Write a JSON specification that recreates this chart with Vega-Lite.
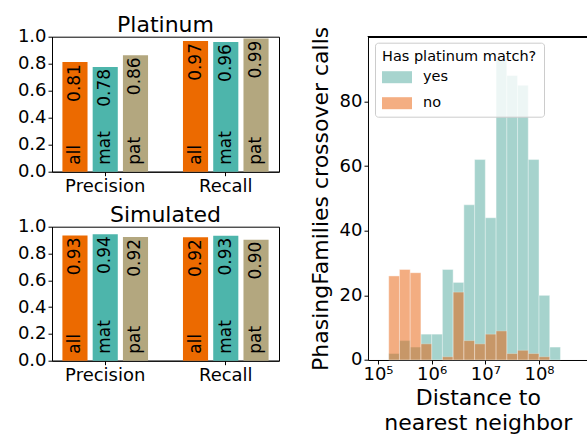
{
  "$schema": "https://vega.github.io/schema/vega-lite/v6.json",
  "padding": {"left": 16, "top": 12.7, "right": 0, "bottom": 0},
  "spacing": 29,
  "resolve": {"scale": {"color": "independent"}},
  "config": {
    "font": "DejaVu Sans",
    "view": {"stroke": "black", "strokeWidth": 1},
    "axis": {"grid": false, "domainColor": "black", "tickColor": "black", "labelColor": "black", "titleColor": "black", "labelFontSize": 18, "tickSize": 4, "labelPadding": 2, "titleFontWeight": "normal", "titleFontSize": 22},
    "title": {"fontSize": 22, "fontWeight": "normal", "color": "black"}
  },
  "datasets": {
    "bars": [
      {"panel": "Platinum", "metric": "Precision", "set": "all", "value": 0.812},
      {"panel": "Platinum", "metric": "Precision", "set": "mat", "value": 0.776},
      {"panel": "Platinum", "metric": "Precision", "set": "pat", "value": 0.862},
      {"panel": "Platinum", "metric": "Recall", "set": "all", "value": 0.968},
      {"panel": "Platinum", "metric": "Recall", "set": "mat", "value": 0.96},
      {"panel": "Platinum", "metric": "Recall", "set": "pat", "value": 0.986},
      {"panel": "Simulated", "metric": "Precision", "set": "all", "value": 0.934},
      {"panel": "Simulated", "metric": "Precision", "set": "mat", "value": 0.944},
      {"panel": "Simulated", "metric": "Precision", "set": "pat", "value": 0.924},
      {"panel": "Simulated", "metric": "Recall", "set": "all", "value": 0.922},
      {"panel": "Simulated", "metric": "Recall", "set": "mat", "value": 0.933},
      {"panel": "Simulated", "metric": "Recall", "set": "pat", "value": 0.903}
    ],
    "hist": [
      {"match": "yes", "lo": 158489, "hi": 251189, "count": 2},
      {"match": "yes", "lo": 251189, "hi": 398107, "count": 6},
      {"match": "yes", "lo": 398107, "hi": 630957, "count": 4},
      {"match": "yes", "lo": 630957, "hi": 1000000, "count": 8},
      {"match": "yes", "lo": 1000000, "hi": 1584893, "count": 8},
      {"match": "yes", "lo": 1584893, "hi": 2511886, "count": 28},
      {"match": "yes", "lo": 2511886, "hi": 3981072, "count": 24},
      {"match": "yes", "lo": 3981072, "hi": 6309573, "count": 48},
      {"match": "yes", "lo": 6309573, "hi": 10000000, "count": 62},
      {"match": "yes", "lo": 10000000, "hi": 15848932, "count": 44},
      {"match": "yes", "lo": 15848932, "hi": 25118864, "count": 93},
      {"match": "yes", "lo": 25118864, "hi": 39810717, "count": 88},
      {"match": "yes", "lo": 39810717, "hi": 63095734, "count": 85},
      {"match": "yes", "lo": 63095734, "hi": 100000000, "count": 62},
      {"match": "yes", "lo": 100000000, "hi": 158489319, "count": 20},
      {"match": "yes", "lo": 158489319, "hi": 251188643, "count": 4},
      {"match": "no", "lo": 158489, "hi": 251189, "count": 26},
      {"match": "no", "lo": 251189, "hi": 398107, "count": 28},
      {"match": "no", "lo": 398107, "hi": 630957, "count": 27},
      {"match": "no", "lo": 630957, "hi": 1000000, "count": 5},
      {"match": "no", "lo": 1584893, "hi": 2511886, "count": 1},
      {"match": "no", "lo": 2511886, "hi": 3981072, "count": 21},
      {"match": "no", "lo": 3981072, "hi": 6309573, "count": 6},
      {"match": "no", "lo": 6309573, "hi": 10000000, "count": 5},
      {"match": "no", "lo": 10000000, "hi": 15848932, "count": 8},
      {"match": "no", "lo": 15848932, "hi": 25118864, "count": 9},
      {"match": "no", "lo": 25118864, "hi": 39810717, "count": 2},
      {"match": "no", "lo": 39810717, "hi": 63095734, "count": 3},
      {"match": "no", "lo": 63095734, "hi": 100000000, "count": 2},
      {"match": "no", "lo": 100000000, "hi": 158489319, "count": 1}
    ]
  },
  "hconcat": [
    {
      "spacing": 6,
      "vconcat": [
        {
          "title": {"text": "Platinum", "offset": -9},
          "width": 227, "height": 135,
          "data": {"name": "bars"},
          "transform": [{"filter": "datum.panel == 'Platinum'"}],
          "encoding": {
            "x": {"field": "metric", "type": "nominal", "sort": ["Precision", "Recall"], "scale": {"paddingInner": 0.247, "paddingOuter": 0.065}, "axis": {"title": null, "labelAngle": 0}},
            "xOffset": {"field": "set", "type": "nominal", "sort": ["all", "mat", "pat"], "scale": {"paddingInner": 0.17, "paddingOuter": 0.085}},
            "y": {"field": "value", "type": "quantitative", "scale": {"domain": [0, 1], "nice": false}, "axis": {"title": null, "values": [0, 0.2, 0.4, 0.6, 0.8, 1.0], "format": ".1f"}}
          },
          "layer": [
            {"mark": {"type": "bar"}, "encoding": {"color": {"field": "set", "type": "nominal", "scale": {"domain": ["all", "mat", "pat"], "range": ["#ec6a00", "#4db5ab", "#b3a77f"]}, "legend": null}}},
            {"mark": {"type": "text", "angle": 270, "align": "right", "baseline": "middle", "dx": -2, "fontSize": 17, "color": "black"}, "encoding": {"text": {"field": "value", "type": "quantitative", "format": ".2f"}}},
            {"mark": {"type": "text", "angle": 270, "align": "left", "baseline": "middle", "dx": 7, "fontSize": 17, "color": "black"}, "encoding": {"text": {"field": "set", "type": "nominal"}, "y": {"datum": 0}}}
          ]
        },
        {
          "title": {"text": "Simulated", "offset": -9},
          "width": 227, "height": 134,
          "data": {"name": "bars"},
          "transform": [{"filter": "datum.panel == 'Simulated'"}],
          "encoding": {
            "x": {"field": "metric", "type": "nominal", "sort": ["Precision", "Recall"], "scale": {"paddingInner": 0.247, "paddingOuter": 0.065}, "axis": {"title": null, "labelAngle": 0}},
            "xOffset": {"field": "set", "type": "nominal", "sort": ["all", "mat", "pat"], "scale": {"paddingInner": 0.17, "paddingOuter": 0.085}},
            "y": {"field": "value", "type": "quantitative", "scale": {"domain": [0, 1], "nice": false}, "axis": {"title": null, "values": [0, 0.2, 0.4, 0.6, 0.8, 1.0], "format": ".1f"}}
          },
          "layer": [
            {"mark": {"type": "bar"}, "encoding": {"color": {"field": "set", "type": "nominal", "scale": {"domain": ["all", "mat", "pat"], "range": ["#ec6a00", "#4db5ab", "#b3a77f"]}, "legend": null}}},
            {"mark": {"type": "text", "angle": 270, "align": "right", "baseline": "middle", "dx": -2, "fontSize": 17, "color": "black"}, "encoding": {"text": {"field": "value", "type": "quantitative", "format": ".2f"}}},
            {"mark": {"type": "text", "angle": 270, "align": "left", "baseline": "middle", "dx": 7, "fontSize": 17, "color": "black"}, "encoding": {"text": {"field": "set", "type": "nominal"}, "y": {"datum": 0}}}
          ]
        }
      ]
    },
    {
      "width": 219.7, "height": 323.3,
      "view": {"stroke": null},
      "data": {"name": "hist"},
      "layer": [
        {
          "mark": {"type": "rect", "opacity": 0.5, "stroke": "white", "strokeWidth": 0.6, "strokeOpacity": 0.7},
          "encoding": {
            "x": {"field": "lo", "type": "quantitative", "scale": {"type": "log", "domain": [65163, 807200000], "nice": false}, "axis": {"title": ["Distance to", "nearest neighbor"], "values": [100000, 1000000, 10000000, 100000000], "labelExpr": "'10' + ['⁰','¹','²','³','⁴','⁵','⁶','⁷','⁸','⁹'][round(log(datum.value)/LN10)]", "titlePadding": 4, "titleLineHeight": 25}},
            "x2": {"field": "hi"},
            "y": {"field": "count", "type": "quantitative", "stack": null, "scale": {"domain": [0, 100], "nice": false}, "axis": {"title": "PhasingFamilies crossover calls", "values": [0, 20, 40, 60, 80], "titlePadding": 7}},
            "y2": {"datum": 0},
            "color": {"field": "match", "type": "nominal", "scale": {"domain": ["yes", "no"], "range": ["#4fa99d", "#e95d05"]},
              "legend": {"title": "Has platinum match?", "orient": "none", "legendX": 7, "legendY": 6, "titleFontSize": 14.5, "titleFontWeight": "normal", "labelFontSize": 14.5, "symbolType": "M-1,-0.4H1V0.4H-1Z", "symbolSize": 900, "symbolOpacity": 0.5, "symbolStrokeWidth": 0, "labelOffset": 11, "padding": 7, "fillColor": "rgba(255,255,255,0.8)", "strokeColor": "#cccccc", "cornerRadius": 3, "rowPadding": 4, "titlePadding": -2}}
          }
        },
        {"mark": {"type": "rule", "color": "black", "strokeWidth": 1}, "encoding": {"y": {"datum": 100}}}
      ]
    }
  ]
}
